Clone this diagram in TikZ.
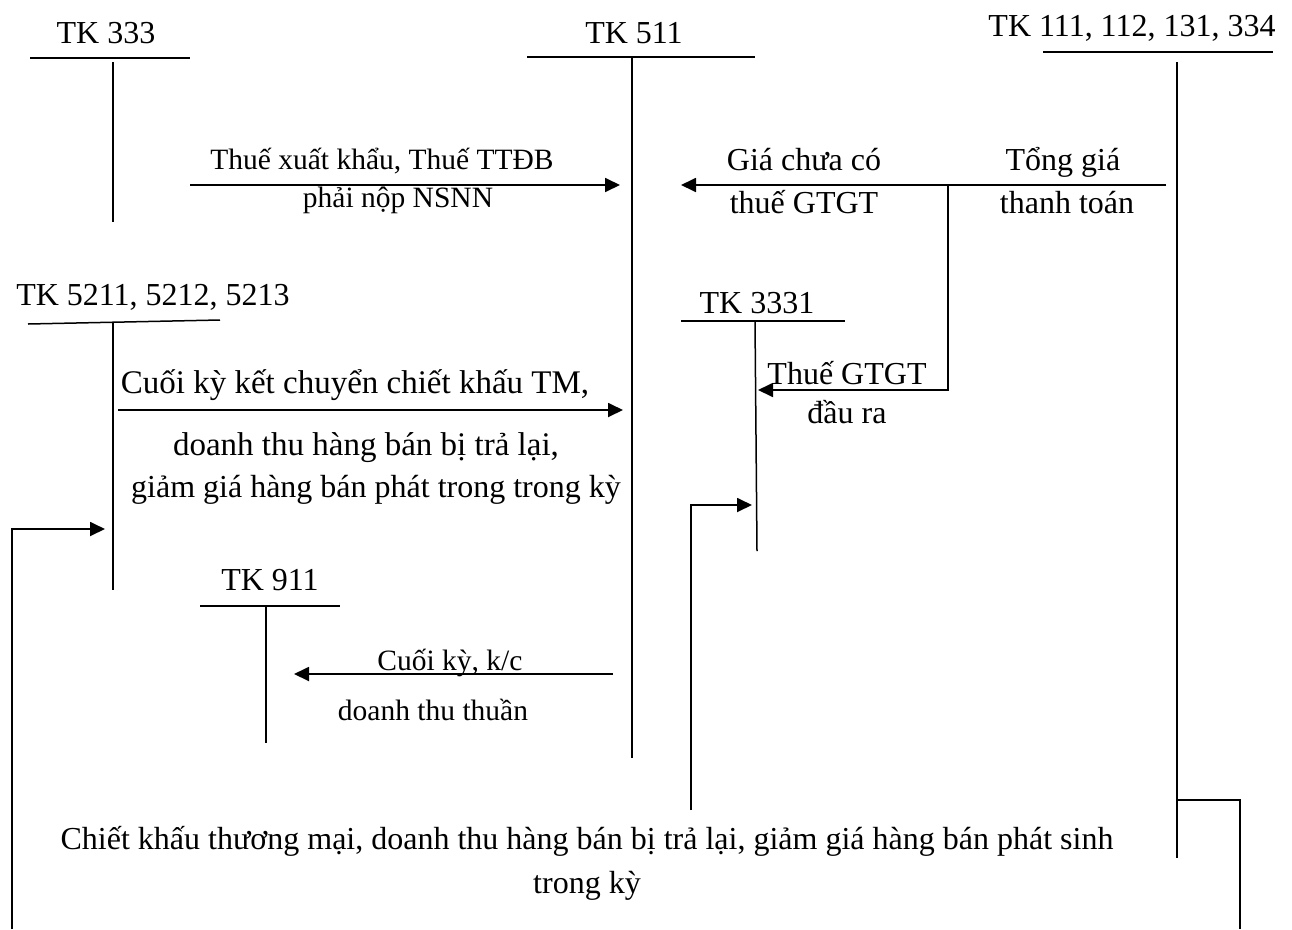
\documentclass[tikz,border=0pt]{standalone}
\usepackage{fontspec}
\setmainfont{Liberation Serif}
\usetikzlibrary{arrows.meta}
\begin{document}
\begin{tikzpicture}[x=1pt,y=-1pt,
  acct/.style={line width=1.5pt},
  flow/.style={line width=1.8pt,-{Triangle[length=15pt,width=14pt]}},
  link/.style={line width=1.8pt},
  lbl/.style={inner sep=0pt,anchor=base,font=\fontsize{32}{38}\selectfont},
  big/.style={inner sep=0pt,anchor=base,font=\fontsize{33}{39}\selectfont},
  sm/.style={inner sep=0pt,anchor=base,font=\fontsize{29.5}{35}\selectfont},
]
\useasboundingbox (0,0) rectangle (1292,929);

% T-account headings
\node[lbl] (n333)  at (106,43)  {TK 333};
\node[lbl] (n511)  at (634,43)  {TK 511};
\node[lbl] (n111)  at (1132,36) {TK 111, 112, 131, 334};
\node[lbl] (n521)  at (153,305) {TK 5211, 5212, 5213};
\node[lbl] (n3331) at (757,313) {TK 3331};
\node[lbl] (n911)  at (270,590) {TK 911};

% T-account lines
\coordinate (a333L) at (30,58);   \coordinate (a333R) at (190,58);
\coordinate (a333T) at (113,62);  \coordinate (a333B) at (113,222);
\coordinate (a511L) at (527,57);  \coordinate (a511R) at (755,57);
\coordinate (a511T) at (632,57);  \coordinate (a511B) at (632,758);
\coordinate (a111L) at (1043,52); \coordinate (a111R) at (1273,52);
\coordinate (a111T) at (1177,62); \coordinate (a111B) at (1177,858);
\coordinate (a521L) at (28,324);  \coordinate (a521R) at (220,320);
\coordinate (a521T) at (113,322); \coordinate (a521B) at (113,590);
\coordinate (a3331L) at (681,321); \coordinate (a3331R) at (845,321);
\coordinate (a3331T) at (755,321); \coordinate (a3331B) at (757,551);
\coordinate (a911L) at (200,606); \coordinate (a911R) at (340,606);
\coordinate (a911T) at (266,606); \coordinate (a911B) at (266,743);

\foreach \k in {333,511,111,521,3331,911}{
  \draw[acct] (a\k L) -- (a\k R);
  \draw[acct] (a\k T) -- (a\k B);
}

% Flows
\coordinate (f1s) at (190,185);  \coordinate (f1e) at (620,185);
\coordinate (f2s) at (1166,185); \coordinate (f2e) at (681,185);
\coordinate (br1) at (948,185);  \coordinate (br2) at (948,390);
\coordinate (f3e) at (758,390);
\coordinate (f4s) at (118,410);  \coordinate (f4e) at (623,410);
\coordinate (f5s) at (613,674);  \coordinate (f5e) at (294,674);

\draw[flow] (f1s) -- (f1e);
\draw[flow] (f2s) -- (f2e);
\draw[flow] (br1) -- (br2) -- (f3e);
\draw[flow] (f4s) -- (f4e);
\draw[flow] (f5s) -- (f5e);

% Return lines for discounts and returns
\coordinate (r1a) at (12,929);   \coordinate (r1b) at (12,529);   \coordinate (r1e) at (105,529);
\coordinate (r2a) at (691,810);  \coordinate (r2b) at (691,505);  \coordinate (r2e) at (752,505);
\coordinate (r3a) at (1177,800); \coordinate (r3b) at (1240,800); \coordinate (r3e) at (1240,929);
\draw[flow] (r1a) -- (r1b) -- (r1e);
\draw[flow] (r2a) -- (r2b) -- (r2e);
\draw[link] (r3a) -- (r3b) -- (r3e);

% Flow labels
\node[sm]  (t1a) at (382,169) {Thuế xuất khẩu, Thuế TTĐB};
\node[sm]  (t1b) at (398,207) {phải nộp NSNN};
\node[lbl] (t2a) at (804,170) {Giá chưa có};
\node[lbl] (t2b) at (804,213) {thuế GTGT};
\node[lbl] (t3a) at (1063,170) {Tổng giá};
\node[lbl] (t3b) at (1067,213) {thanh toán};
\node[lbl] (t4a) at (847,384) {Thuế GTGT};
\node[lbl] (t4b) at (847,423) {đầu ra};
\node[big] (t5a) at (355,393) {Cuối kỳ kết chuyển chiết khấu TM,};
\node[big] (t5b) at (366,455) {doanh thu hàng bán bị trả lại,};
\node[lbl] (t5c) at (376,497) {giảm giá hàng bán phát trong trong kỳ};
\node[sm]  (t6a) at (450,670) {Cuối kỳ, k/c};
\node[sm]  (t6b) at (433,720) {doanh thu thuần};
\node[lbl] (t7a) at (587,849) {Chiết khấu thương mại, doanh thu hàng bán bị trả lại, giảm giá hàng bán phát sinh};
\node[lbl] (t7b) at (587,893) {trong kỳ};
\end{tikzpicture}
\end{document}
